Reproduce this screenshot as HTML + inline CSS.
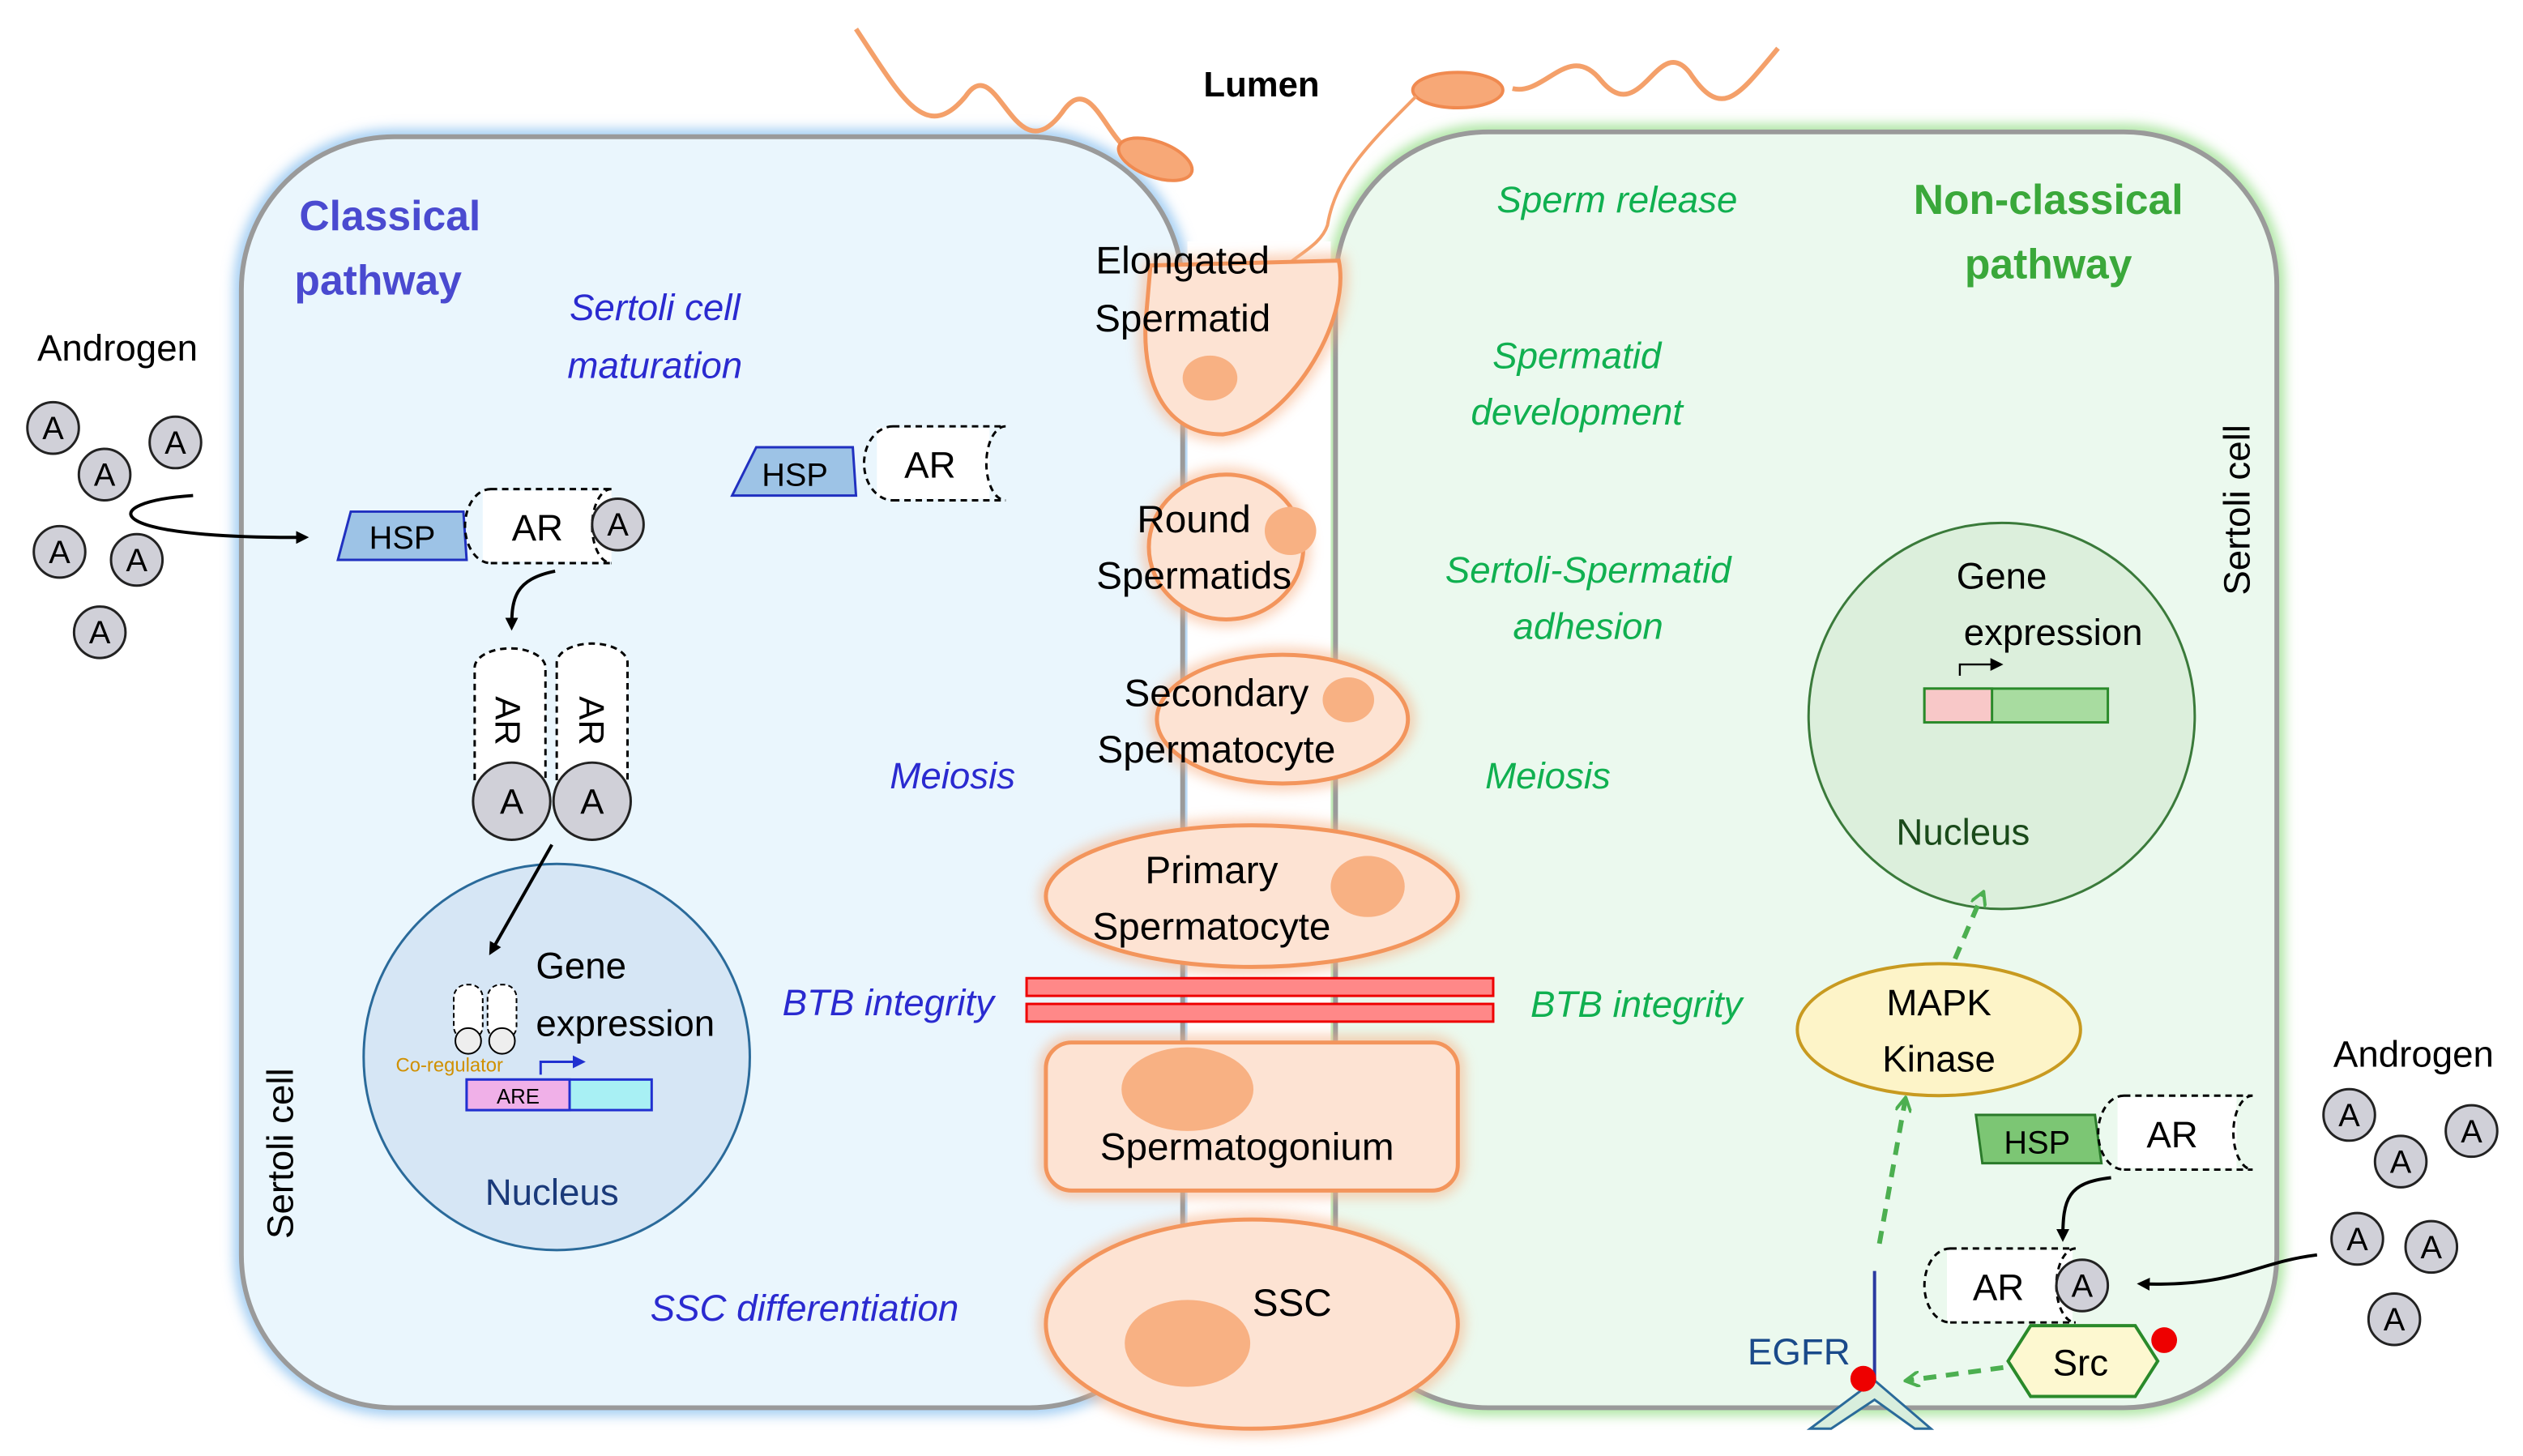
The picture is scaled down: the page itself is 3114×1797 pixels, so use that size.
<!DOCTYPE html>
<html><head><meta charset="utf-8"><style>
html,body{margin:0;padding:0;background:#fff}
svg{display:block}
text{font-family:"Liberation Sans",sans-serif}
</style></head><body>
<svg width="3114" height="1797" viewBox="0 0 1568 905" preserveAspectRatio="none" xmlns="http://www.w3.org/2000/svg">
<defs>
<marker id="ak" markerWidth="8" markerHeight="8" refX="6" refY="4" orient="auto" markerUnits="userSpaceOnUse"><path d="M0,0 L8,4 L0,8 z" fill="#000"/></marker>
<marker id="ag" markerWidth="10" markerHeight="10" refX="7" refY="5" orient="auto" markerUnits="userSpaceOnUse"><path d="M0,0 L9,5 L0,10" fill="none" stroke="#4caf50" stroke-width="2"/></marker>
<marker id="ab" markerWidth="8" markerHeight="8" refX="6" refY="4" orient="auto" markerUnits="userSpaceOnUse"><path d="M0,0 L8,4 L0,8 z" fill="#2030d0"/></marker>
<filter id="gl" x="-20%" y="-20%" width="140%" height="140%"><feGaussianBlur stdDeviation="4"/></filter>
</defs>
<rect x="150" y="85" width="585" height="790" rx="95" fill="none" stroke="#8fc3f0" stroke-width="8" filter="url(#gl)"/>
<rect x="150" y="85" width="585" height="790" rx="95" fill="#eaf6fd" stroke="#9a9a9a" stroke-width="3"/>
<rect x="830" y="82" width="585" height="793" rx="95" fill="none" stroke="#9be08f" stroke-width="8" filter="url(#gl)"/>
<rect x="830" y="82" width="585" height="793" rx="95" fill="#ebf9ee" stroke="#9a9a9a" stroke-width="3"/>
<rect x="738" y="150" width="89" height="710" fill="#fff"/>
<path d="M532,18 C560,60 575,90 600,60 C620,30 630,110 660,70 C680,40 690,100 710,95" fill="none" stroke="#f4a06a" stroke-width="3"/>
<ellipse cx="718" cy="99" rx="24" ry="11" transform="rotate(20 718 99)" fill="#f7a877" stroke="#f08a50" stroke-width="2"/>
<path d="M1105,30 C1080,60 1070,75 1050,45 C1030,20 1020,80 995,50 C975,25 960,60 940,55" fill="none" stroke="#f4a06a" stroke-width="3"/>
<ellipse cx="906" cy="56" rx="28" ry="11" fill="#f7a877" stroke="#f08a50" stroke-width="2"/>
<path d="M880,60 C850,90 830,110 825,140 C820,155 800,160 790,175" fill="none" stroke="#f4a06a" stroke-width="2"/>
<text x="784" y="60" font-size="22" font-weight="bold" text-anchor="middle">Lumen</text>
<g stroke="#f8b48a" stroke-width="8" fill="none" filter="url(#gl)" opacity="0.7">
<path d="M715,165 L832,162 C840,200 800,265 760,270 C725,270 710,240 712,200 Z"/>
<ellipse cx="762" cy="340" rx="48" ry="45"/>
<ellipse cx="797" cy="447" rx="78" ry="40"/>
<ellipse cx="778" cy="557" rx="128" ry="44"/>
<rect x="650" y="648" width="256" height="92" rx="16"/>
<ellipse cx="778" cy="823" rx="128" ry="65"/>
</g>
<g stroke="#f3955c" stroke-width="2.5" fill="#fde3d3">
<path d="M715,165 L832,162 C840,200 800,265 760,270 C725,270 710,240 712,200 Z"/>
<ellipse cx="762" cy="340" rx="48" ry="45"/>
<ellipse cx="797" cy="447" rx="78" ry="40"/>
<ellipse cx="778" cy="557" rx="128" ry="44"/>
<rect x="650" y="648" width="256" height="92" rx="16"/>
<ellipse cx="778" cy="823" rx="128" ry="65"/>
</g>
<g fill="#f8b183">
<ellipse cx="752" cy="235" rx="17" ry="14"/>
<ellipse cx="802" cy="330" rx="16" ry="15"/>
<ellipse cx="838" cy="435" rx="16" ry="14"/>
<ellipse cx="850" cy="551" rx="23" ry="19"/>
<ellipse cx="738" cy="677" rx="41" ry="26"/>
<ellipse cx="738" cy="835" rx="39" ry="27"/>
</g>
<g font-size="24" text-anchor="middle" fill="#000">
<text x="735" y="170">Elongated</text><text x="735" y="206">Spermatid</text>
<text x="742" y="331">Round</text><text x="742" y="366">Spermatids</text>
<text x="756" y="439">Secondary</text><text x="756" y="474">Spermatocyte</text>
<text x="753" y="549">Primary</text><text x="753" y="584">Spermatocyte</text>
<text x="775" y="721">Spermatogonium</text>
<text x="803" y="818">SSC</text>
</g>
<rect x="638" y="608" width="290" height="11" fill="#f88" stroke="#e00" stroke-width="1.5"/>
<rect x="638" y="624" width="290" height="11" fill="#f88" stroke="#e00" stroke-width="1.5"/>
<g font-weight="bold" font-size="26" fill="#4a4ad0"><text x="186" y="143">Classical</text><text x="183" y="183">pathway</text></g>
<g font-style="italic" font-size="23" fill="#2a2ad0" text-anchor="middle">
<text x="407" y="199">Sertoli cell</text><text x="407" y="235">maturation</text>
<text x="592" y="490">Meiosis</text>
<text x="552" y="631">BTB integrity</text>
<text x="500" y="821">SSC differentiation</text>
</g>
<text x="0" y="0" font-size="23" transform="translate(182,770) rotate(-90)">Sertoli cell</text>
<text x="73" y="224" font-size="23" text-anchor="middle">Androgen</text>
<g fill="#d0d0d8" stroke="#222" stroke-width="1.5">
<circle cx="33" cy="266" r="16"/><circle cx="65" cy="295" r="16"/><circle cx="109" cy="275" r="16"/>
<circle cx="37" cy="343" r="16"/><circle cx="85" cy="348" r="16"/><circle cx="62" cy="393" r="16"/>
</g>
<g font-size="20" text-anchor="middle"><text x="33" y="273">A</text><text x="65" y="302">A</text><text x="109" y="282">A</text><text x="37" y="350">A</text><text x="85" y="355">A</text><text x="62" y="400">A</text></g>
<path d="M120,308 C60,312 60,335 190,334" fill="none" stroke="#000" stroke-width="2" marker-end="url(#ak)"/>
<path d="M218,318 L288,318 L290,348 L210,348 Z" fill="#9dc3e6" stroke="#2030c0" stroke-width="1.5"/>
<text x="250" y="341" font-size="20" text-anchor="middle">HSP</text>
<rect x="300" y="305" width="80" height="44" fill="#fff"/>
<path d="M305,304 L380,304 M305,350 L380,350 M305,304 A16,23 0 0 0 305,350 M380,304 A12,23 0 0 0 380,350" fill="none" stroke="#000" stroke-dasharray="4,3" stroke-width="1.5"/>
<text x="334" y="336" font-size="23" text-anchor="middle">AR</text>
<circle cx="384" cy="326" r="16" fill="#d0d0d8" stroke="#222" stroke-width="1.5"/><text x="384" y="333" font-size="20" text-anchor="middle">A</text>
<path d="M470,278 L530,278 L532,308 L455,308 Z" fill="#9dc3e6" stroke="#2030c0" stroke-width="1.5"/>
<text x="494" y="302" font-size="20" text-anchor="middle">HSP</text>
<rect x="545" y="266" width="70" height="44" fill="#fff"/>
<path d="M555,265 L625,265 M555,311 L625,311 M555,265 A18,23 0 0 0 555,311 M625,265 A12,23 0 0 0 625,311" fill="none" stroke="#000" stroke-dasharray="4,3" stroke-width="1.5"/>
<text x="578" y="297" font-size="23" text-anchor="middle">AR</text>
<path d="M345,355 C320,360 318,372 318,390" fill="none" stroke="#000" stroke-width="2" marker-end="url(#ak)"/>
<g stroke="#000" stroke-width="1.5" stroke-dasharray="4,3" fill="#fff">
<path d="M295,485 L295,415 A22,12 0 0 1 339,415 L339,485"/>
<path d="M346,485 L346,412 A22,12 0 0 1 390,412 L390,485"/>
</g>
<text transform="translate(308,448) rotate(90)" font-size="22" text-anchor="middle">AR</text>
<text transform="translate(360,448) rotate(90)" font-size="22" text-anchor="middle">AR</text>
<circle cx="318" cy="498" r="24" fill="#d0d0d8" stroke="#222" stroke-width="1.5"/><circle cx="368" cy="498" r="24" fill="#d0d0d8" stroke="#222" stroke-width="1.5"/>
<text x="318" y="506" font-size="22" text-anchor="middle">A</text><text x="368" y="506" font-size="22" text-anchor="middle">A</text>
<circle cx="346" cy="657" r="120" fill="#d6e6f5" stroke="#2a6a9a" stroke-width="1.5"/>
<path d="M343,525 L305,592" stroke="#000" stroke-width="2" marker-end="url(#ak)"/>
<g stroke="#000" stroke-width="1" stroke-dasharray="3,2" fill="#fff"><rect x="282" y="612" width="18" height="34" rx="8"/><rect x="303" y="612" width="18" height="34" rx="8"/></g>
<circle cx="291" cy="647" r="8" fill="#eee" stroke="#000"/><circle cx="312" cy="647" r="8" fill="#eee" stroke="#000"/>
<text x="333" y="608" font-size="23">Gene</text><text x="333" y="644" font-size="23">expression</text>
<text x="246" y="666" font-size="12" fill="#d09000">Co-regulator</text>
<path d="M336,668 L336,660 L362,660" fill="none" stroke="#2030d0" stroke-width="1.5" marker-end="url(#ab)"/>
<rect x="290" y="671" width="115" height="19" fill="#a8f0f4" stroke="#2030d0" stroke-width="1.5"/>
<rect x="290" y="671" width="64" height="19" fill="#f0b0e8" stroke="#2030d0" stroke-width="1.5"/>
<text x="322" y="686" font-size="13" text-anchor="middle">ARE</text>
<text x="343" y="749" font-size="23" fill="#1a3a7a" text-anchor="middle">Nucleus</text>
<g font-weight="bold" font-size="26" fill="#3aa83a" text-anchor="middle"><text x="1273" y="133">Non-classical</text><text x="1273" y="173">pathway</text></g>
<g font-style="italic" font-size="23" fill="#10b050" text-anchor="middle">
<text x="1005" y="132">Sperm release</text>
<text x="980" y="229">Spermatid</text><text x="980" y="264">development</text>
<text x="987" y="362">Sertoli-Spermatid</text><text x="987" y="397">adhesion</text>
<text x="962" y="490">Meiosis</text>
<text x="1017" y="632">BTB integrity</text>
</g>
<text transform="translate(1398,370) rotate(-90)" font-size="23">Sertoli cell</text>
<circle cx="1244" cy="445" r="120" fill="#dcefdc" stroke="#3a7a3a" stroke-width="1.5"/>
<text x="1244" y="366" font-size="23" text-anchor="middle">Gene</text><text x="1276" y="401" font-size="23" text-anchor="middle">expression</text>
<path d="M1218,420 L1218,413 L1243,413" fill="none" stroke="#000" stroke-width="1.2" marker-end="url(#ak)"/>
<rect x="1196" y="428" width="114" height="21" fill="#a8dca0" stroke="#2a8a2a" stroke-width="1.5"/>
<rect x="1196" y="428" width="42" height="21" fill="#f8c8c8" stroke="#2a8a2a" stroke-width="1.5"/>
<text x="1220" y="525" font-size="23" fill="#1a4a1a" text-anchor="middle">Nucleus</text>
<ellipse cx="1205" cy="640" rx="88" ry="41" fill="#fdf4c8" stroke="#c89a20" stroke-width="2"/>
<text x="1205" y="631" font-size="23" text-anchor="middle">MAPK</text><text x="1205" y="666" font-size="23" text-anchor="middle">Kinase</text>
<path d="M1215,596 L1232,556" stroke="#4caf50" stroke-width="3" stroke-dasharray="8,6" marker-end="url(#ag)"/>
<path d="M1168,773 L1184,684" stroke="#4caf50" stroke-width="3" stroke-dasharray="8,6" marker-end="url(#ag)"/>
<text x="1500" y="663" font-size="23" text-anchor="middle">Androgen</text>
<g fill="#d0d0d8" stroke="#222" stroke-width="1.5">
<circle cx="1460" cy="693" r="16"/><circle cx="1492" cy="722" r="16"/><circle cx="1536" cy="703" r="16"/>
<circle cx="1465" cy="770" r="16"/><circle cx="1511" cy="775" r="16"/><circle cx="1488" cy="820" r="16"/>
</g>
<g font-size="20" text-anchor="middle"><text x="1460" y="700">A</text><text x="1492" y="729">A</text><text x="1536" y="710">A</text><text x="1465" y="777">A</text><text x="1511" y="782">A</text><text x="1488" y="827">A</text></g>
<path d="M1228,693 L1302,693 L1306,723 L1232,723 Z" fill="#7cc674" stroke="#2a7a2a" stroke-width="1.5"/>
<text x="1266" y="717" font-size="20" text-anchor="middle">HSP</text>
<rect x="1316" y="682" width="74" height="44" fill="#fff"/>
<path d="M1320,681 L1400,681 M1320,727 L1400,727 M1320,681 A16,23 0 0 0 1320,727 M1400,681 A12,23 0 0 0 1400,727" fill="none" stroke="#000" stroke-dasharray="4,3" stroke-width="1.5"/>
<text x="1350" y="713" font-size="23" text-anchor="middle">AR</text>
<path d="M1312,732 C1285,735 1282,745 1282,770" fill="none" stroke="#000" stroke-width="2" marker-end="url(#ak)"/>
<rect x="1210" y="777" width="78" height="44" fill="#fff"/>
<path d="M1212,776 L1290,776 M1212,822 L1290,822 M1212,776 A16,23 0 0 0 1212,822 M1290,776 A12,23 0 0 0 1290,822" fill="none" stroke="#000" stroke-dasharray="4,3" stroke-width="1.5"/>
<text x="1242" y="808" font-size="23" text-anchor="middle">AR</text>
<circle cx="1294" cy="799" r="16" fill="#d0d0d8" stroke="#222" stroke-width="1.5"/><text x="1294" y="806" font-size="20" text-anchor="middle">A</text>
<path d="M1440,780 C1400,785 1390,800 1330,798" fill="none" stroke="#000" stroke-width="2" marker-end="url(#ak)"/>
<path d="M1262,824 L1327,824 L1341,846 L1327,868 L1262,868 L1248,846 Z" fill="#fdf8d0" stroke="#2a8a2a" stroke-width="2"/>
<text x="1293" y="855" font-size="23" text-anchor="middle">Src</text>
<circle cx="1345" cy="833" r="8" fill="#e00"/>
<path d="M1245,850 L1186,858" stroke="#4caf50" stroke-width="3" stroke-dasharray="8,6" marker-end="url(#ag)"/>
<path d="M1125,888 L1165,858 L1200,888 L1190,888 L1165,870 L1138,888 Z" fill="#d8eedd" stroke="#2a6a9a" stroke-width="1.5"/>
<line x1="1165" y1="790" x2="1165" y2="858" stroke="#2a3aa0" stroke-width="2"/>
<circle cx="1158" cy="857" r="8" fill="#e00"/>
<text x="1118" y="848" font-size="23" fill="#1a4a8a" text-anchor="middle">EGFR</text>
</svg>
</body></html>
